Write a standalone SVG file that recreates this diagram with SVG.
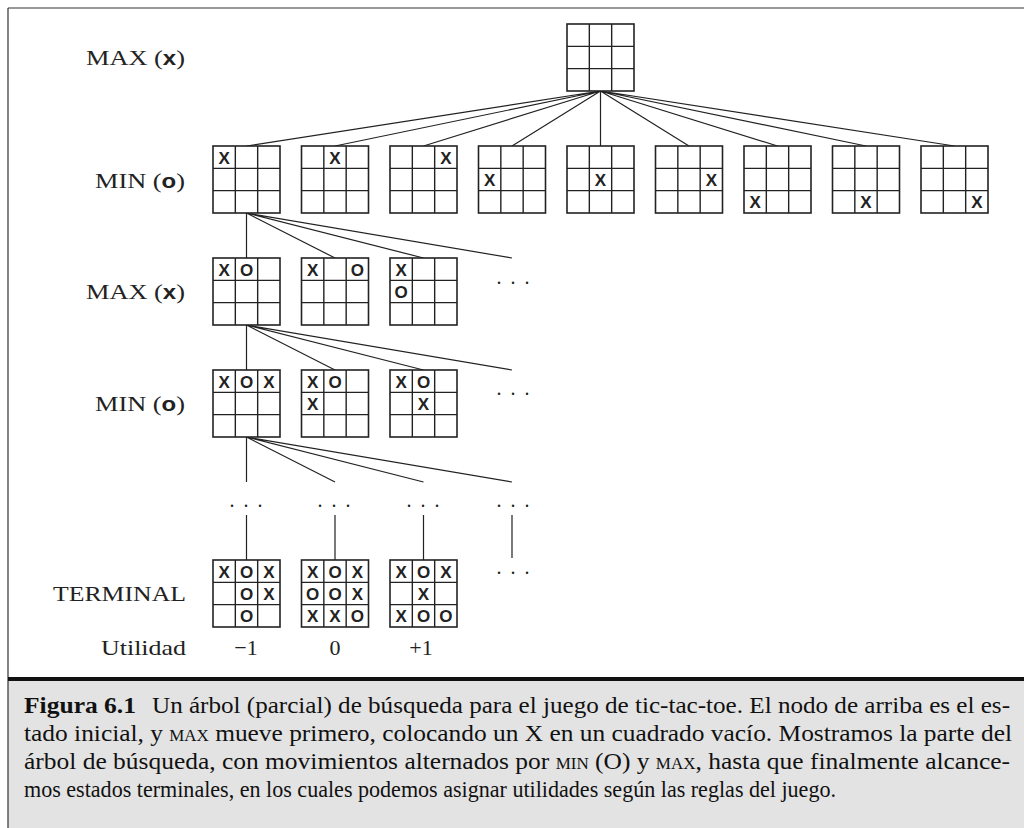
<svg xmlns="http://www.w3.org/2000/svg" xmlns:xlink="http://www.w3.org/1999/xlink" width="1024" height="828" viewBox="0 0 1024 828">
<style>
.lbl{font-family:"Liberation Serif","Times New Roman",serif;font-size:22px;fill:#222}
.sym{font-family:"Liberation Sans",Arial,sans-serif;font-weight:bold;font-size:20px}
.mk{font-family:"Liberation Sans",Arial,sans-serif;font-weight:bold;font-size:17px;fill:#222;text-anchor:middle}
.dots{font-family:"Liberation Serif",serif;font-size:20px;fill:#222;text-anchor:middle;letter-spacing:2px}
.cap{font-family:"Liberation Serif","Times New Roman",serif;font-size:24px;fill:#111}
.sc{font-size:16px}
.edge{stroke:#222;stroke-width:1.2;fill:none}
.frame{stroke:#333;stroke-width:1.2;fill:none}
</style>
<defs>
<g id="board">
<rect x="0" y="0" width="67" height="67" fill="#fff" stroke="#222" stroke-width="1.6"/>
<path d="M22.33 0V67M44.67 0V67M0 22.33H67M0 44.67H67" stroke="#222" stroke-width="1.4"/>
</g>
</defs>
<rect x="0" y="0" width="1024" height="828" fill="#fff"/>
<rect x="8" y="681" width="1016" height="147" fill="#e3e3e3"/>
<path class="frame" d="M8 8H1024M8 8V828"/>
<rect x="8" y="677" width="1016" height="4" fill="#111"/>

<g id="labels">
<text class="lbl" x="86" y="65" textLength="99" lengthAdjust="spacingAndGlyphs">MAX (<tspan class="sym">x</tspan>)</text>
<text class="lbl" x="95" y="188" textLength="90" lengthAdjust="spacingAndGlyphs">MIN (<tspan class="sym">o</tspan>)</text>
<text class="lbl" x="86" y="299" textLength="99" lengthAdjust="spacingAndGlyphs">MAX (<tspan class="sym">x</tspan>)</text>
<text class="lbl" x="95" y="411" textLength="90" lengthAdjust="spacingAndGlyphs">MIN (<tspan class="sym">o</tspan>)</text>
<text class="lbl" x="53" y="601" textLength="133" lengthAdjust="spacingAndGlyphs">TERMINAL</text>
<text class="lbl" x="101" y="655" textLength="85" lengthAdjust="spacingAndGlyphs">Utilidad</text>
<text class="lbl" x="246" y="655" text-anchor="middle">−1</text>
<text class="lbl" x="335" y="655" text-anchor="middle">0</text>
<text class="lbl" x="421" y="655" text-anchor="middle">+1</text>
</g>

<g id="connectors">
<path class="edge" d="M600.5 91L246.5 146M600.5 91L335 146M600.5 91L423.5 146M600.5 91L512 146M600.5 91L600.5 146M600.5 91L689 146M600.5 91L777.5 146M600.5 91L866 146M600.5 91L954.5 146"/>
<path class="edge" d="M246.5 213L246.5 258M246.5 213L335 258M246.5 213L423.5 258M246.5 213L512 258"/>
<path class="edge" d="M246.5 325L246.5 370M246.5 325L335 370M246.5 325L423.5 370M246.5 325L512 370"/>
<path class="edge" d="M246.5 437L246.5 482M246.5 437L335 482M246.5 437L423.5 482M246.5 437L512 482"/>
<path class="edge" d="M246.5 515V560M335 515V560M423.5 515V560M512 515V558"/>
</g>

<g id="ellipses">
<text class="dots" x="514" y="284">. . .</text>
<text class="dots" x="514" y="395">. . .</text>
<text class="dots" x="247" y="507">. . .</text>
<text class="dots" x="335" y="507">. . .</text>
<text class="dots" x="424" y="507">. . .</text>
<text class="dots" x="514" y="507">. . .</text>
<text class="dots" x="514" y="574">. . .</text>
</g>

<g id="root" transform="translate(567,24)"><use xlink:href="#board"/></g>

<g id="min1_0" transform="translate(213,146)"><use xlink:href="#board"/><text class="mk" x="11.2" y="17.5">X</text></g>
<g id="min1_1" transform="translate(301.5,146)"><use xlink:href="#board"/><text class="mk" x="33.5" y="17.5">X</text></g>
<g id="min1_2" transform="translate(390,146)"><use xlink:href="#board"/><text class="mk" x="55.8" y="17.5">X</text></g>
<g id="min1_3" transform="translate(478.5,146)"><use xlink:href="#board"/><text class="mk" x="11.2" y="39.8">X</text></g>
<g id="min1_4" transform="translate(567,146)"><use xlink:href="#board"/><text class="mk" x="33.5" y="39.8">X</text></g>
<g id="min1_5" transform="translate(655.5,146)"><use xlink:href="#board"/><text class="mk" x="55.8" y="39.8">X</text></g>
<g id="min1_6" transform="translate(744,146)"><use xlink:href="#board"/><text class="mk" x="11.2" y="62.2">X</text></g>
<g id="min1_7" transform="translate(832.5,146)"><use xlink:href="#board"/><text class="mk" x="33.5" y="62.2">X</text></g>
<g id="min1_8" transform="translate(921,146)"><use xlink:href="#board"/><text class="mk" x="55.8" y="62.2">X</text></g>

<g id="max2_0" transform="translate(213,258)"><use xlink:href="#board"/><text class="mk" x="11.2" y="17.5">X</text><text class="mk" x="33.5" y="17.5">O</text></g>
<g id="max2_1" transform="translate(301.5,258)"><use xlink:href="#board"/><text class="mk" x="11.2" y="17.5">X</text><text class="mk" x="55.8" y="17.5">O</text></g>
<g id="max2_2" transform="translate(390,258)"><use xlink:href="#board"/><text class="mk" x="11.2" y="17.5">X</text><text class="mk" x="11.2" y="39.8">O</text></g>

<g id="min3_0" transform="translate(213,370)"><use xlink:href="#board"/><text class="mk" x="11.2" y="17.5">X</text><text class="mk" x="33.5" y="17.5">O</text><text class="mk" x="55.8" y="17.5">X</text></g>
<g id="min3_1" transform="translate(301.5,370)"><use xlink:href="#board"/><text class="mk" x="11.2" y="17.5">X</text><text class="mk" x="33.5" y="17.5">O</text><text class="mk" x="11.2" y="39.8">X</text></g>
<g id="min3_2" transform="translate(390,370)"><use xlink:href="#board"/><text class="mk" x="11.2" y="17.5">X</text><text class="mk" x="33.5" y="17.5">O</text><text class="mk" x="33.5" y="39.8">X</text></g>

<g id="term_0" transform="translate(213,560)"><use xlink:href="#board"/>
<text class="mk" x="11.2" y="17.5">X</text><text class="mk" x="33.5" y="17.5">O</text><text class="mk" x="55.8" y="17.5">X</text>
<text class="mk" x="33.5" y="39.8">O</text><text class="mk" x="55.8" y="39.8">X</text>
<text class="mk" x="33.5" y="62.2">O</text></g>
<g id="term_1" transform="translate(301.5,560)"><use xlink:href="#board"/>
<text class="mk" x="11.2" y="17.5">X</text><text class="mk" x="33.5" y="17.5">O</text><text class="mk" x="55.8" y="17.5">X</text>
<text class="mk" x="11.2" y="39.8">O</text><text class="mk" x="33.5" y="39.8">O</text><text class="mk" x="55.8" y="39.8">X</text>
<text class="mk" x="11.2" y="62.2">X</text><text class="mk" x="33.5" y="62.2">X</text><text class="mk" x="55.8" y="62.2">O</text></g>
<g id="term_2" transform="translate(390,560)"><use xlink:href="#board"/>
<text class="mk" x="11.2" y="17.5">X</text><text class="mk" x="33.5" y="17.5">O</text><text class="mk" x="55.8" y="17.5">X</text>
<text class="mk" x="33.5" y="39.8">X</text>
<text class="mk" x="11.2" y="62.2">X</text><text class="mk" x="33.5" y="62.2">O</text><text class="mk" x="55.8" y="62.2">O</text></g>

<g id="caption">
<text class="cap" x="24" y="713"><tspan font-weight="bold" textLength="112" lengthAdjust="spacingAndGlyphs">Figura 6.1</tspan></text>
<text class="cap" x="152" y="713" textLength="858" lengthAdjust="spacingAndGlyphs">Un árbol (parcial) de búsqueda para el juego de tic-tac-toe. El nodo de arriba es el es-</text>
<text class="cap" x="24" y="741" textLength="988" lengthAdjust="spacingAndGlyphs">tado inicial, y <tspan class="sc">MAX</tspan> mueve primero, colocando un X en un cuadrado vacío. Mostramos la parte del</text>
<text class="cap" x="24" y="769" textLength="986" lengthAdjust="spacingAndGlyphs">árbol de búsqueda, con movimientos alternados por <tspan class="sc">MIN</tspan> (O) y <tspan class="sc">MAX</tspan>, hasta que finalmente alcance-</text>
<text class="cap" x="24" y="797" textLength="812" lengthAdjust="spacingAndGlyphs">mos estados terminales, en los cuales podemos asignar utilidades según las reglas del juego.</text>
</g>
</svg>
